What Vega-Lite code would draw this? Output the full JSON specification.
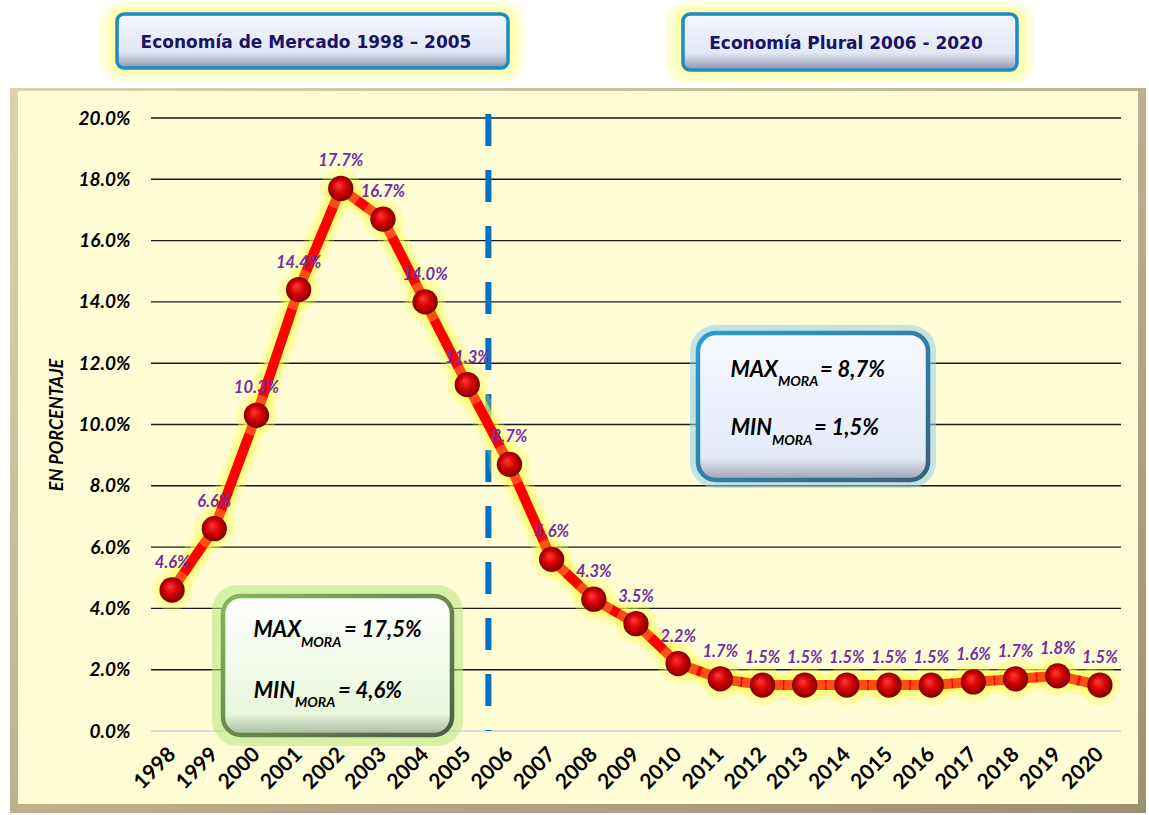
{
  "$schema": "https://vega.github.io/schema/vega-lite/v6.json",
  "width": 970,
  "height": 613,
  "autosize": {"type": "none"},
  "padding": {"left": 151, "top": 118, "right": 28, "bottom": 84},
  "background": "white",
  "config": {"view": {"stroke": null}},
  "datasets": {
    "mora": [
      {"year": 1998, "mora": 0.046}, {"year": 1999, "mora": 0.066}, {"year": 2000, "mora": 0.103},
      {"year": 2001, "mora": 0.144}, {"year": 2002, "mora": 0.177}, {"year": 2003, "mora": 0.167},
      {"year": 2004, "mora": 0.140}, {"year": 2005, "mora": 0.113}, {"year": 2006, "mora": 0.087},
      {"year": 2007, "mora": 0.056}, {"year": 2008, "mora": 0.043}, {"year": 2009, "mora": 0.035},
      {"year": 2010, "mora": 0.022}, {"year": 2011, "mora": 0.017}, {"year": 2012, "mora": 0.015},
      {"year": 2013, "mora": 0.015}, {"year": 2014, "mora": 0.015}, {"year": 2015, "mora": 0.015},
      {"year": 2016, "mora": 0.015}, {"year": 2017, "mora": 0.016}, {"year": 2018, "mora": 0.017},
      {"year": 2019, "mora": 0.018}, {"year": 2020, "mora": 0.015}
    ],
    "grid": [{"g": 0}, {"g": 0.02}, {"g": 0.04}, {"g": 0.06}, {"g": 0.08}, {"g": 0.10}, {"g": 0.12}, {"g": 0.14}, {"g": 0.16}, {"g": 0.18}, {"g": 0.20}]
  },
  "layer": [
    {"data": {"values": [{}]}, "mark": {"type": "rect", "fill": {"gradient": "linear", "x1": 0, "y1": 0, "x2": 1, "y2": 1, "stops": [{"offset": 0, "color": "#DCD3AE"}, {"offset": 1, "color": "#9C9070"}]}},
      "encoding": {
        "x": {"datum": 1994.157, "type": "quantitative", "scale": {"domain": [1997.5, 2020.5], "nice": false, "zero": false},
          "axis": {"title": null, "zindex": 2, "values": [1998,1999,2000,2001,2002,2003,2004,2005,2006,2007,2008,2009,2010,2011,2012,2013,2014,2015,2016,2017,2018,2019,2020],
            "format": "d", "labelAngle": -45, "labelAlign": "right", "labelBaseline": "middle",
            "labelFont": "Lato", "labelFontSize": 21, "labelFontWeight": "bold", "labelColor": "black",
            "labelPadding": 20, "ticks": false, "domain": false, "grid": false, "labelOverlap": false}},
        "x2": {"datum": 2021.093},
        "y": {"datum": 0.20979, "type": "quantitative", "scale": {"domain": [0, 0.2], "nice": false, "zero": false},
          "axis": {"title": "EN PORCENTAJE", "zindex": 2, "values": [0,0.02,0.04,0.06,0.08,0.1,0.12,0.14,0.16,0.18,0.2],
            "format": ".1%", "labelFont": "Lato", "labelFontSize": 19, "labelFontWeight": "bold", "labelFontStyle": "italic",
            "labelColor": "black", "labelPadding": 21, "ticks": false, "domain": false, "grid": false,
            "titleFont": "Lato", "titleFontSize": 18, "titleFontWeight": "bold", "titleFontStyle": "italic", "titleColor": "black",
            "titlePadding": 11}},
        "y2": {"datum": -0.02675}}},
    {"data": {"values": [{}]}, "mark": {"type": "rect", "fill": "#FFFDD6"},
      "encoding": {"x": {"datum": 1994.346}, "x2": {"datum": 2020.903}, "y": {"datum": 0.20881}, "y2": {"datum": -0.02382}}},

    {"data": {"values": [{}]}, "mark": {"type": "rect", "fill": "#FFFF80", "opacity": 0.3, "cornerRadius": 22},
      "encoding": {"x": {"datum": 1996.291}, "x2": {"datum": 2006.368}, "y": {"datum": 0.23785}, "y2": {"datum": 0.21175}}},
    {"data": {"values": [{}]}, "mark": {"type": "rect", "fill": "#FFFF60", "opacity": 0.35, "cornerRadius": 14},
      "encoding": {"x": {"datum": 1996.49}, "x2": {"datum": 2006.17}, "y": {"datum": 0.2359}, "y2": {"datum": 0.2140}}},
    {"data": {"values": [{}]}, "mark": {"type": "rect", "cornerRadius": 7, "strokeWidth": 3.5, "stroke": "#1B8CC4",
        "fill": {"gradient": "linear", "x1": 0, "y1": 0, "x2": 0, "y2": 1, "stops": [{"offset": 0, "color": "#F4F6FF"}, {"offset": 0.7, "color": "#E2E7F6"}, {"offset": 1, "color": "#8E94A8"}]}},
      "encoding": {"x": {"datum": 1996.694}, "x2": {"datum": 2005.965}, "y": {"datum": 0.23393}, "y2": {"datum": 0.21631}}},
    {"data": {"values": [{}]}, "mark": {"type": "text", "text": "Economía de Mercado 1998 – 2005", "font": "DejaVu Sans", "fontWeight": "bold", "fontSize": 17, "color": "#1B1464", "align": "center", "baseline": "middle"},
      "encoding": {"x": {"datum": 2001.175}, "y": {"datum": 0.22447}}},

    {"data": {"values": [{}]}, "mark": {"type": "rect", "fill": "#FFFF80", "opacity": 0.3, "cornerRadius": 22},
      "encoding": {"x": {"datum": 2009.711}, "x2": {"datum": 2018.437}, "y": {"datum": 0.23785}, "y2": {"datum": 0.21109}}},
    {"data": {"values": [{}]}, "mark": {"type": "rect", "fill": "#FFFF60", "opacity": 0.35, "cornerRadius": 14},
      "encoding": {"x": {"datum": 2009.91}, "x2": {"datum": 2018.24}, "y": {"datum": 0.2359}, "y2": {"datum": 0.2134}}},
    {"data": {"values": [{}]}, "mark": {"type": "rect", "cornerRadius": 7, "strokeWidth": 3.5, "stroke": "#1B8CC4",
        "fill": {"gradient": "linear", "x1": 0, "y1": 0, "x2": 0, "y2": 1, "stops": [{"offset": 0, "color": "#F4F6FF"}, {"offset": 0.7, "color": "#E2E7F6"}, {"offset": 1, "color": "#8E94A8"}]}},
      "encoding": {"x": {"datum": 2010.114}, "x2": {"datum": 2018.034}, "y": {"datum": 0.23393}, "y2": {"datum": 0.21566}}},
    {"data": {"values": [{}]}, "mark": {"type": "text", "text": "Economía Plural 2006 - 2020", "font": "DejaVu Sans", "fontWeight": "bold", "fontSize": 17, "color": "#1B1464", "align": "center", "baseline": "middle"},
      "encoding": {"x": {"datum": 2013.979}, "y": {"datum": 0.22414}}},

    {"data": {"name": "grid"}, "mark": {"type": "rule"},
      "encoding": {"y": {"field": "g", "type": "quantitative"},
        "color": {"condition": {"test": "datum.g === 0", "value": "#D9D9D9"}, "value": "#1A1A1A"},
        "strokeWidth": {"condition": {"test": "datum.g === 0", "value": 2}, "value": 1.4}}},

    {"data": {"values": [{}]}, "mark": {"type": "rule", "color": "#0070C0", "strokeWidth": 6, "strokeDash": [32, 24]},
      "encoding": {"x": {"datum": 2005.5}, "y": {"datum": 0.2013}, "y2": {"datum": 0}}},

    {"data": {"values": [{}]}, "mark": {"type": "rect", "fill": "#B8E680", "opacity": 0.55, "cornerRadius": 26},
      "encoding": {"x": {"datum": 1998.946}, "x2": {"datum": 2004.898}, "y": {"datum": 0.04763}, "y2": {"datum": -0.00489}}},
    {"data": {"values": [{}]}, "mark": {"type": "rect", "cornerRadius": 18, "strokeWidth": 4.5,
        "stroke": {"gradient": "linear", "x1": 0, "y1": 0, "x2": 1, "y2": 1, "stops": [{"offset": 0, "color": "#84B85A"}, {"offset": 1, "color": "#4E5C44"}]},
        "fill": {"gradient": "linear", "x1": 0, "y1": 0, "x2": 0, "y2": 1, "stops": [{"offset": 0, "color": "#FFFFFF"}, {"offset": 0.85, "color": "#E8F7DA"}, {"offset": 1, "color": "#A9B69C"}]}},
      "encoding": {"x": {"datum": 1999.207}, "x2": {"datum": 2004.637}, "y": {"datum": 0.04405}, "y2": {"datum": -0.00131}}},
    {"data": {"values": [{}]}, "mark": {"type": "text", "text": "MAX", "font": "Lato", "fontWeight": "bold", "fontStyle": "italic", "fontSize": 22, "color": "black", "align": "right", "baseline": "alphabetic"},
      "encoding": {"x": {"datum": 2001.057}, "y": {"datum": 0.03067}}},
    {"data": {"values": [{}]}, "mark": {"type": "text", "text": "MORA", "font": "Lato", "fontWeight": "bold", "fontStyle": "italic", "fontSize": 14, "color": "black", "align": "left", "baseline": "alphabetic"},
      "encoding": {"x": {"datum": 2001.057}, "y": {"datum": 0.02741}}},
    {"data": {"values": [{}]}, "mark": {"type": "text", "text": "= 17,5%", "font": "Lato", "fontWeight": "bold", "fontStyle": "italic", "fontSize": 22, "color": "black", "align": "left", "baseline": "alphabetic"},
      "encoding": {"x": {"datum": 2002.076}, "y": {"datum": 0.03067}}},
    {"data": {"values": [{}]}, "mark": {"type": "text", "text": "MIN", "font": "Lato", "fontWeight": "bold", "fontStyle": "italic", "fontSize": 22, "color": "black", "align": "right", "baseline": "alphabetic"},
      "encoding": {"x": {"datum": 2000.914}, "y": {"datum": 0.01077}}},
    {"data": {"values": [{}]}, "mark": {"type": "text", "text": "MORA", "font": "Lato", "fontWeight": "bold", "fontStyle": "italic", "fontSize": 14, "color": "black", "align": "left", "baseline": "alphabetic"},
      "encoding": {"x": {"datum": 2000.914}, "y": {"datum": 0.00783}}},
    {"data": {"values": [{}]}, "mark": {"type": "text", "text": "= 4,6%", "font": "Lato", "fontWeight": "bold", "fontStyle": "italic", "fontSize": 22, "color": "black", "align": "left", "baseline": "alphabetic"},
      "encoding": {"x": {"datum": 2001.934}, "y": {"datum": 0.01077}}},

    {"data": {"values": [{}]}, "mark": {"type": "rect", "fill": "#8FD0EE", "opacity": 0.55, "cornerRadius": 26},
      "encoding": {"x": {"datum": 2010.280}, "x2": {"datum": 2016.113}, "y": {"datum": 0.13246}, "y2": {"datum": 0.07928}}},
    {"data": {"values": [{}]}, "mark": {"type": "rect", "cornerRadius": 18, "strokeWidth": 4.5,
        "stroke": {"gradient": "linear", "x1": 0, "y1": 0, "x2": 1, "y2": 1, "stops": [{"offset": 0, "color": "#2A9ED4"}, {"offset": 1, "color": "#3E5F76"}]},
        "fill": {"gradient": "linear", "x1": 0, "y1": 0, "x2": 0, "y2": 1, "stops": [{"offset": 0, "color": "#F7F9FF"}, {"offset": 0.85, "color": "#E4EAF8"}, {"offset": 1, "color": "#9CA2B4"}]}},
      "encoding": {"x": {"datum": 2010.470}, "x2": {"datum": 2015.924}, "y": {"datum": 0.12985}, "y2": {"datum": 0.08189}}},
    {"data": {"values": [{}]}, "mark": {"type": "text", "text": "MAX", "font": "Lato", "fontWeight": "bold", "fontStyle": "italic", "fontSize": 22, "color": "black", "align": "right", "baseline": "alphabetic"},
      "encoding": {"x": {"datum": 2012.367}, "y": {"datum": 0.11550}}},
    {"data": {"values": [{}]}, "mark": {"type": "text", "text": "MORA", "font": "Lato", "fontWeight": "bold", "fontStyle": "italic", "fontSize": 14, "color": "black", "align": "left", "baseline": "alphabetic"},
      "encoding": {"x": {"datum": 2012.367}, "y": {"datum": 0.11256}}},
    {"data": {"values": [{}]}, "mark": {"type": "text", "text": "= 8,7%", "font": "Lato", "fontWeight": "bold", "fontStyle": "italic", "fontSize": 22, "color": "black", "align": "left", "baseline": "alphabetic"},
      "encoding": {"x": {"datum": 2013.363}, "y": {"datum": 0.11550}}},
    {"data": {"values": [{}]}, "mark": {"type": "text", "text": "MIN", "font": "Lato", "fontWeight": "bold", "fontStyle": "italic", "fontSize": 22, "color": "black", "align": "right", "baseline": "alphabetic"},
      "encoding": {"x": {"datum": 2012.225}, "y": {"datum": 0.09657}}},
    {"data": {"values": [{}]}, "mark": {"type": "text", "text": "MORA", "font": "Lato", "fontWeight": "bold", "fontStyle": "italic", "fontSize": 14, "color": "black", "align": "left", "baseline": "alphabetic"},
      "encoding": {"x": {"datum": 2012.225}, "y": {"datum": 0.09331}}},
    {"data": {"values": [{}]}, "mark": {"type": "text", "text": "= 1,5%", "font": "Lato", "fontWeight": "bold", "fontStyle": "italic", "fontSize": 22, "color": "black", "align": "left", "baseline": "alphabetic"},
      "encoding": {"x": {"datum": 2013.221}, "y": {"datum": 0.09657}}},

    {"data": {"name": "mora"},
      "encoding": {"x": {"field": "year", "type": "quantitative"}, "y": {"field": "mora", "type": "quantitative"}},
      "layer": [
        {"mark": {"type": "line", "color": "#FFFF50", "strokeWidth": 28, "opacity": 0.25, "strokeJoin": "round", "strokeCap": "round"}},
        {"mark": {"type": "line", "color": "#FFFF40", "strokeWidth": 18, "opacity": 0.5, "strokeJoin": "round", "strokeCap": "round"}},
        {"mark": {"type": "line", "color": "#FF0000", "strokeWidth": 10, "strokeJoin": "round"}},
        {"mark": {"type": "point", "shape": "circle", "filled": true, "size": 1700, "color": "#FFFF50", "opacity": 0.3}},
        {"mark": {"type": "point", "shape": "circle", "filled": true, "size": 640, "opacity": 1,
            "fill": {"gradient": "radial", "x1": 0.4, "y1": 0.35, "r1": 0, "x2": 0.5, "y2": 0.5, "r2": 0.55,
              "stops": [{"offset": 0, "color": "#FF3A3A"}, {"offset": 0.5, "color": "#D40000"}, {"offset": 1, "color": "#6E0000"}]}}},
        {"mark": {"type": "text", "font": "Lato", "fontWeight": "bold", "fontStyle": "italic", "fontSize": 16.5, "color": "#7030A0", "align": "center", "baseline": "middle", "dy": -27},
          "encoding": {"text": {"field": "mora", "type": "quantitative", "format": ".1%"}}}
      ]}
  ]
}
